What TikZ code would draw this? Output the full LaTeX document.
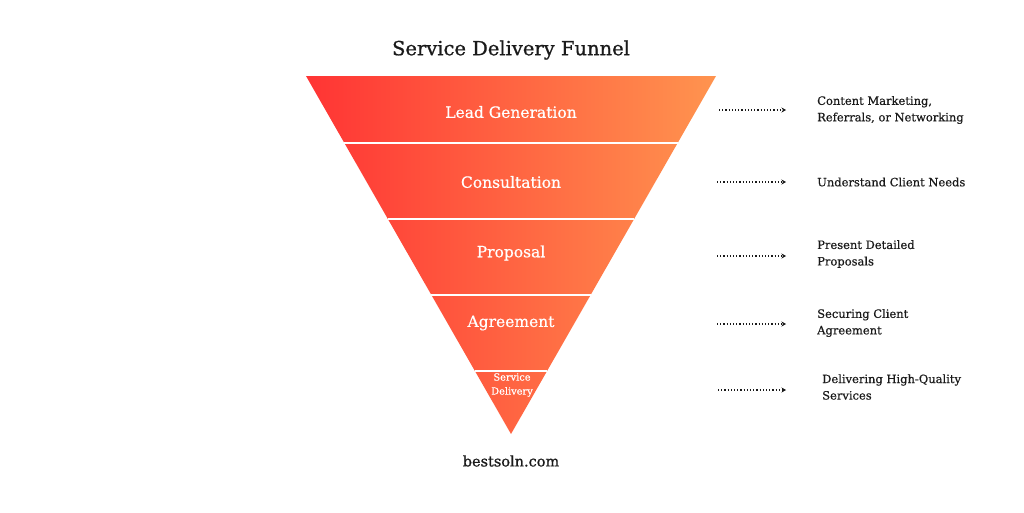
\documentclass[tikz,border=0pt]{standalone}
\usepackage{fontspec}
\setmainfont{DejaVu Serif}
\newfontfamily\heavy[FakeBold=0.9]{DejaVu Serif}
\newfontfamily\semi[FakeBold=0.5]{DejaVu Serif}
\usetikzlibrary{arrows.meta}
\definecolor{funL}{HTML}{FF3434}
\definecolor{funR}{HTML}{FF944F}
\definecolor{ink}{HTML}{1A1A1A}
\tikzset{
  band/.style={text=white,font=\semi\fontsize{15.5}{18}\selectfont},
  sep/.style={white,line width=1.6pt},
  note/.style={text=ink,align=left,anchor=west,inner sep=0pt,font=\semi\fontsize{11.5}{16.5}\selectfont},
  link/.style={ink,dotted,line width=1.2pt,-{Stealth[length=4.5pt,width=5pt]}}
}
\begin{document}
\begin{tikzpicture}[x=1pt,y=-1pt]
\useasboundingbox (0,0) rectangle (1024,512);
\fill[white] (0,0) rectangle (1024,512);
\node[text=ink,font=\heavy\fontsize{19.5}{22}\selectfont] (title) at (511,50) {Service Delivery Funnel};
\coordinate (TL) at (306,76);
\coordinate (TR) at (716,76);
\coordinate (Ap) at (511,434);
\shade[left color=funL,right color=funR] (TL) -- (TR) -- (Ap) -- cycle;
\coordinate (l1) at (344.4,143); \coordinate (r1) at (677.6,143);
\coordinate (l2) at (387.9,219); \coordinate (r2) at (634.1,219);
\coordinate (l3) at (431.4,295); \coordinate (r3) at (590.6,295);
\coordinate (l4) at (474.9,371); \coordinate (r4) at (547.1,371);
\draw[sep] (l1) -- (r1);
\draw[sep] (l2) -- (r2);
\draw[sep] (l3) -- (r3);
\draw[sep] (l4) -- (r4);
\node[band] (b1) at (511,112) {Lead Generation};
\node[band] (b2) at (511,182) {Consultation};
\node[band] (b3) at (511,253) {Proposal};
\node[band] (b4) at (511,323) {Agreement};
\node[text=white,align=center,font=\semi\fontsize{9.8}{14}\selectfont] (b5) at (512,385) {Service\\Delivery};
\node[text=ink,font=\heavy\fontsize{14.5}{17}\selectfont] (site) at (511,461) {bestsoln.com};
\node[note] (n1) at (817,110) {Content Marketing,\\Referrals, or Networking};
\node[note] (n2) at (817,182) {Understand Client Needs};
\node[note] (n3) at (817,254) {Present Detailed\\Proposals};
\node[note] (n4) at (817,323) {Securing Client\\Agreement};
\node[note] (n5) at (822,387) {Delivering High-Quality\\Services};
\coordinate (s1) at (719,110); \coordinate (e1) at (786,110);
\coordinate (s2) at (717,182); \coordinate (e2) at (786,182);
\coordinate (s3) at (717,256); \coordinate (e3) at (786,256);
\coordinate (s4) at (717,324); \coordinate (e4) at (786,324);
\coordinate (s5) at (718,390); \coordinate (e5) at (786,390);
\draw[link] (s1) -- (e1);
\draw[link] (s2) -- (e2);
\draw[link] (s3) -- (e3);
\draw[link] (s4) -- (e4);
\draw[link] (s5) -- (e5);
\end{tikzpicture}
\end{document}
